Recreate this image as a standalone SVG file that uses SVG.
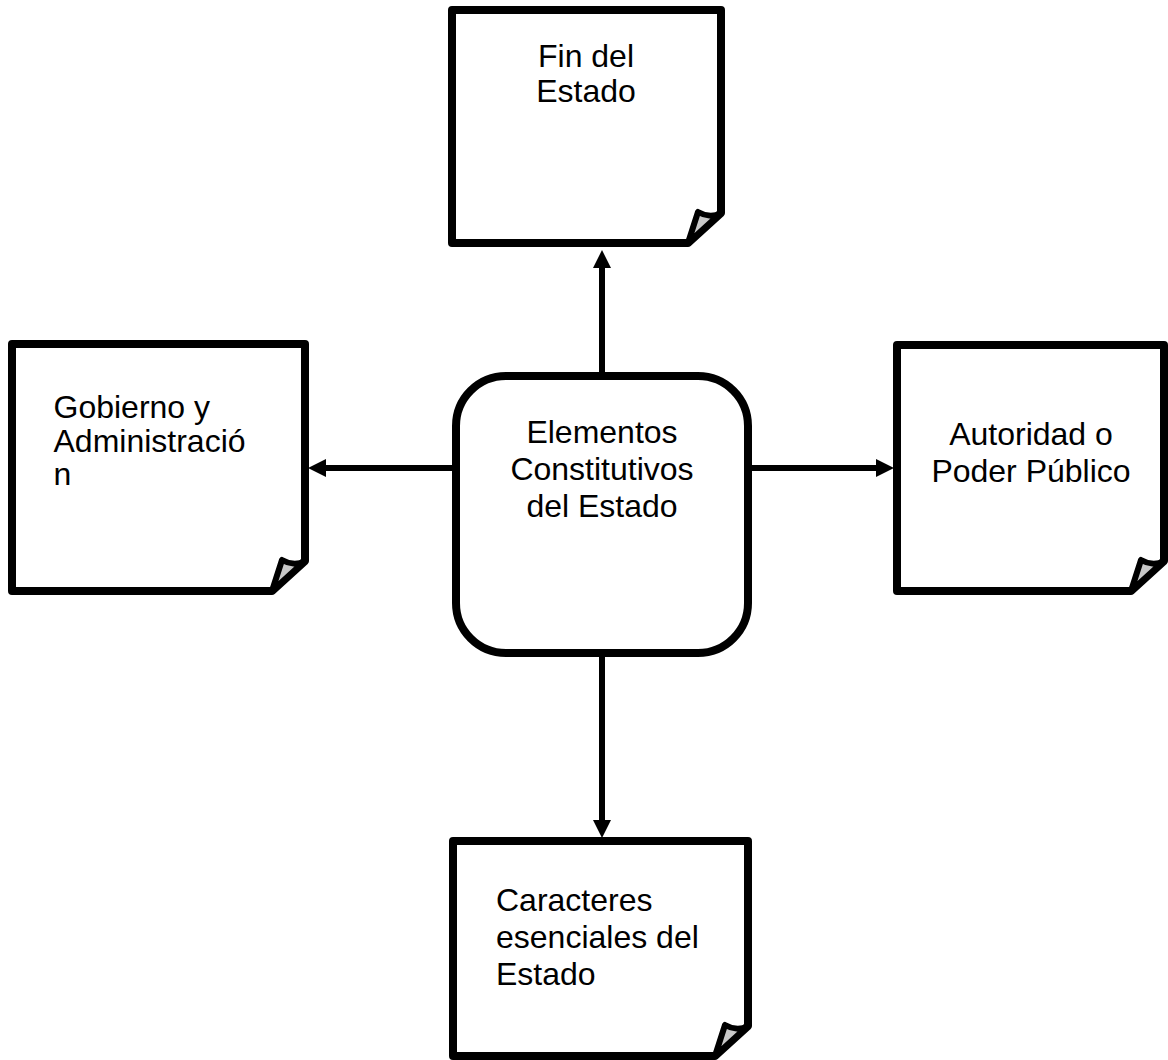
<svg xmlns="http://www.w3.org/2000/svg" width="1168" height="1060" viewBox="0 0 1168 1060">
<style>
.note{fill:#fff;stroke:#000;stroke-width:8;stroke-linejoin:round}
.flap{fill:#c8c8c8;stroke:#000;stroke-width:6;stroke-linejoin:round}
.center{fill:#fff;stroke:#000;stroke-width:8}
.lbl{font-family:"Liberation Sans",Arial,sans-serif;font-size:32px;fill:#000}
.mid{text-anchor:middle}
.conn{stroke:#000;stroke-width:6;fill:none}
</style>
<defs>
<marker id="ah" markerUnits="userSpaceOnUse" markerWidth="18" markerHeight="18" refX="0" refY="9" orient="auto" viewBox="0 0 18 18">
<path d="M0,0 L18,9 L0,18 Z" fill="#000"/>
</marker>
<path id="flap" class="flap" d="M0,-30 C-7,-26 -16,-27 -23,-31 L-33,0 Z"/>
</defs>
<rect width="1168" height="1060" fill="#fff"/>
<g id="connectors">
<line class="conn" x1="602" y1="376" x2="602" y2="268" marker-end="url(#ah)"/>
<line class="conn" x1="602" y1="653" x2="602" y2="820" marker-end="url(#ah)"/>
<line class="conn" x1="452" y1="468" x2="326" y2="468" marker-end="url(#ah)"/>
<line class="conn" x1="752" y1="468" x2="876" y2="468" marker-end="url(#ah)"/>
</g>
<g id="node-fin">
<path class="note" d="M452,10 H721 V213 L688,243 H452 Z"/>
<use href="#flap" x="721" y="243"/>
<text class="lbl mid" x="586" y="67">Fin del</text>
<text class="lbl mid" x="586" y="102">Estado</text>
</g>
<g id="node-gobierno">
<path class="note" d="M12,344 H305 V561 L272,591 H12 Z"/>
<use href="#flap" x="305" y="591"/>
<text class="lbl" x="53.5" y="418">Gobierno y</text>
<text class="lbl" x="53.5" y="452">Administració</text>
<text class="lbl" x="53.5" y="485">n</text>
</g>
<g id="node-elementos">
<rect class="center" x="456" y="376" width="292" height="277" rx="50" ry="50"/>
<text class="lbl mid" x="602" y="443">Elementos</text>
<text class="lbl mid" x="602" y="480">Constitutivos</text>
<text class="lbl mid" x="602" y="517">del Estado</text>
</g>
<g id="node-autoridad">
<path class="note" d="M897,345 H1164 V561 L1131,591 H897 Z"/>
<use href="#flap" x="1164" y="591"/>
<text class="lbl mid" x="1031" y="445">Autoridad o</text>
<text class="lbl mid" x="1031" y="482">Poder Público</text>
</g>
<g id="node-caracteres">
<path class="note" d="M453,841 H748 V1026 L715,1056 H453 Z"/>
<use href="#flap" x="748" y="1056"/>
<text class="lbl" x="496" y="911">Caracteres</text>
<text class="lbl" x="496" y="948">esenciales del</text>
<text class="lbl" x="496" y="985">Estado</text>
</g>
</svg>
